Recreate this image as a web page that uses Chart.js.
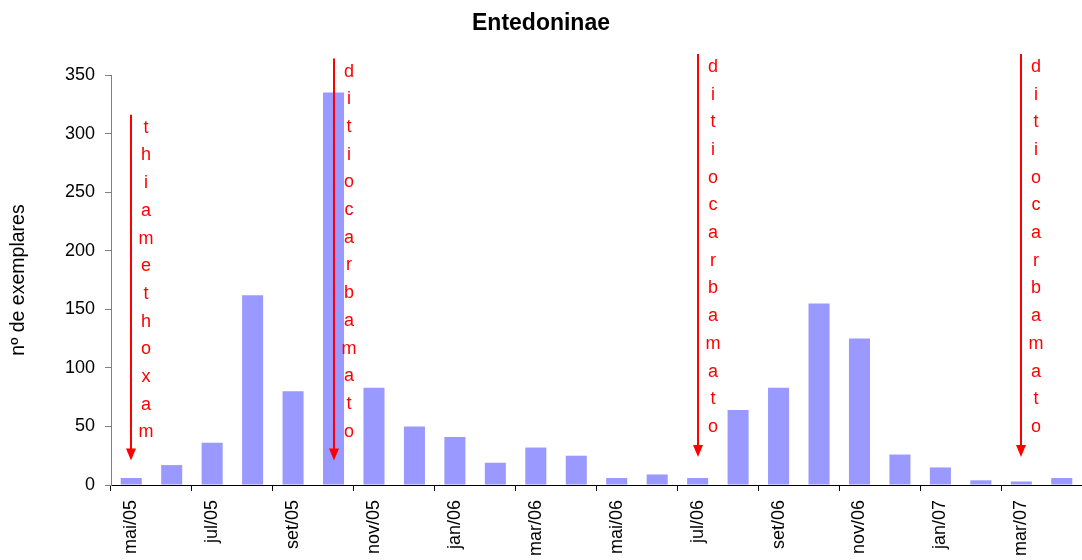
<!DOCTYPE html>
<html>
<head>
<meta charset="utf-8">
<script src="https://cdn.jsdelivr.net/npm/chart.js@4.4.0/dist/chart.umd.min.js"></script>
<style>
  html, body { margin: 0; padding: 0; background: #fff; }
  #wrap { width: 1082px; height: 560px; }
</style>
</head>
<body>
<div id="wrap"><canvas id="mainChart" width="1082" height="560"></canvas></div>
<script>
const months = ['mai/05', 'jun/05', 'jul/05', 'ago/05', 'set/05', 'out/05', 'nov/05', 'dez/05',
                'jan/06', 'fev/06', 'mar/06', 'abr/06', 'mai/06', 'jun/06', 'jul/06', 'ago/06',
                'set/06', 'out/06', 'nov/06', 'dez/06', 'jan/07', 'fev/07', 'mar/07', 'abr/07'];
const exemplares = [6, 17, 36, 162, 80, 335, 83, 50, 41, 19, 32, 25,
                    6, 9, 6, 64, 83, 155, 125, 26, 15, 4, 3, 6];
const yTicks = [0, 50, 100, 150, 200, 250, 300, 350];

// spray events: category index, product name, arrow start / end in y units
const sprayIndex = [0, 5, 14, 22];
const sprayNames = ['thiamethoxam', 'ditiocarbamato', 'ditiocarbamato', 'ditiocarbamato'];
const sprayFrom = [316, 364, 368, 368];
const sprayTo = [21, 21, 24, 24];

const FONT = "'Liberation Sans', Arial, sans-serif";

// red arrows with the product name written letter by letter
const sprayArrows = {
    id: 'sprayArrows',
    afterDatasetsDraw(chart) {
        const ctx = chart.ctx;
        const x = chart.scales.x, y = chart.scales.y;
        ctx.save();
        ctx.strokeStyle = '#ff0000';
        ctx.fillStyle = '#ff0000';
        ctx.lineWidth = 2;
        ctx.font = '18px ' + FONT;
        ctx.textAlign = 'center';
        ctx.textBaseline = 'middle';
        sprayIndex.forEach((idx, i) => {
            const px = Math.round(x.getPixelForValue(idx));
            const top = y.getPixelForValue(sprayFrom[i]);
            const tip = y.getPixelForValue(sprayTo[i]);
            ctx.beginPath();
            ctx.moveTo(px, top);
            ctx.lineTo(px, tip - 10);
            ctx.stroke();
            ctx.beginPath();
            ctx.moveTo(px - 5, tip - 12);
            ctx.lineTo(px + 5, tip - 12);
            ctx.lineTo(px, tip);
            ctx.closePath();
            ctx.fill();
            const letters = sprayNames[i].split('');
            letters.forEach((ch, k) => {
                ctx.fillText(ch, px + 15, top + 13 + k * 27.7);
            });
        });
        ctx.restore();
    }
};

const ctx = document.getElementById('mainChart').getContext('2d');
new Chart(ctx, {
    type: 'bar',
    data: {
        labels: months,
        datasets: [{
            data: exemplares,
            backgroundColor: '#9999ff',
            borderWidth: 0,
            categoryPercentage: 1,
            barPercentage: 0.52
        }]
    },
    options: {
        responsive: false,
        animation: false,
        layout: { padding: 0 },
        plugins: {
            legend: { display: false },
            tooltip: { enabled: false },
            title: {
                display: true,
                text: 'Entedoninae',
                color: '#000',
                font: { family: FONT, size: 23, weight: 'bold' },
                padding: { top: 10, bottom: 37.4 }
            }
        },
        scales: {
            x: {
                grid: {
                    offset: true,
                    drawOnChartArea: false,
                    tickLength: 6,
                    color: (c) => c.index % 2 === 0 ? '#000' : 'rgba(0,0,0,0)'
                },
                border: { color: '#000', width: 1 },
                ticks: {
                    autoSkip: false,
                    minRotation: 90,
                    maxRotation: 90,
                    padding: 9,
                    color: '#000',
                    font: { family: FONT, size: 18 },
                    callback: function(v, i) { return i % 2 === 0 ? months[i] : ''; }
                },
                afterFit: (s) => { s.height = 75; s.paddingLeft = 0; s.paddingRight = 0; }
            },
            y: {
                min: 0,
                max: 350,
                afterBuildTicks: (s) => { s.ticks = yTicks.map(v => ({ value: v })); },
                grid: { drawOnChartArea: false, tickLength: 6, color: '#808080' },
                border: { color: '#808080', width: 1 },
                ticks: {
                    padding: 10,
                    color: '#000',
                    font: { family: FONT, size: 18 }
                },
                title: {
                    display: true,
                    text: 'nº de exemplares',
                    color: '#000',
                    font: { family: FONT, size: 19.5 },
                    padding: { top: 7, bottom: 0 }
                },
                afterFit: (s) => { s.width = 111; }
            }
        }
    },
    plugins: [sprayArrows]
});
</script>
</body>
</html>
